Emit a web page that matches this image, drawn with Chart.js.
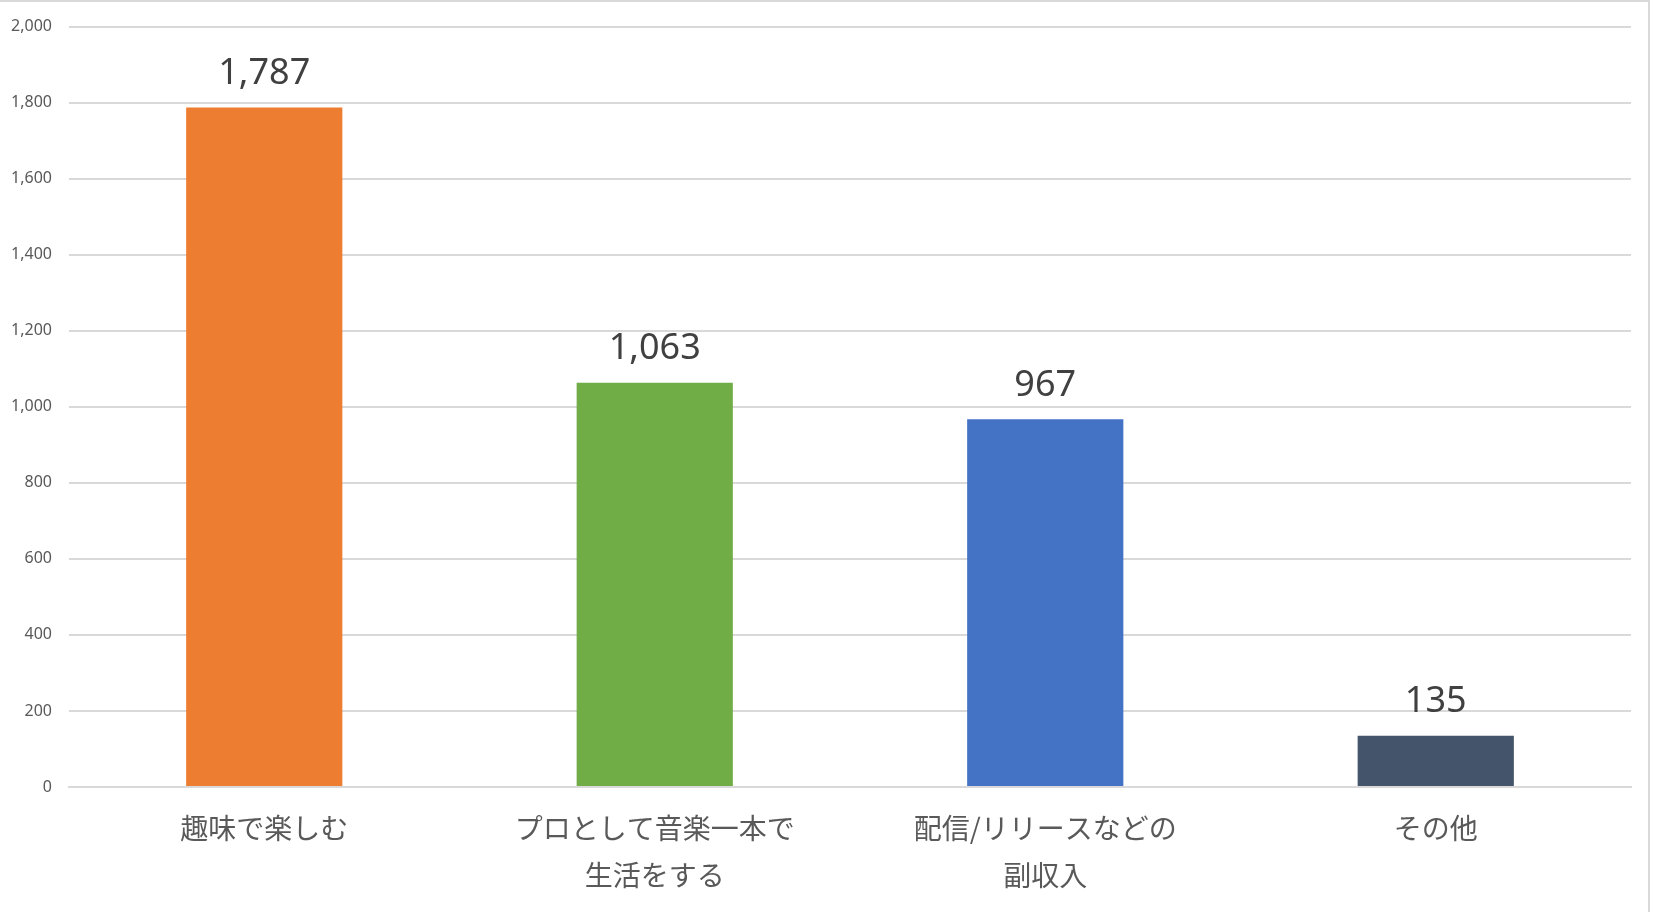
<!DOCTYPE html>
<html>
<head>
<meta charset="utf-8">
<script src="https://cdn.jsdelivr.net/npm/chart.js@4"></script>
<style>
    html, body { margin: 0; padding: 0; background: #fff; }
    #wrap { position: relative; width: 1654px; height: 912px; }
    #frame { position: absolute; left: 0; top: 0; width: 1650px; height: 912px;
             border-top: 2px solid #d9d9d9; border-right: 2px solid #d9d9d9; box-sizing: border-box; pointer-events: none; }
</style>
</head>
<body>
<div id="wrap">
    <canvas id="barChart" width="1654" height="912"></canvas>
    <div id="frame"></div>
</div>
<script>
// data
const categories = ['趣味で楽しむ', ['プロとして音楽一本で', '生活をする'], ['配信/リリースなどの', '副収入'], 'その他'];
const counts = [1787, 1063, 967, 135];
const barColors = ['#ED7D31', '#70AD47', '#4472C4', '#44546A'];
const yMin = 0, yMax = 2000, yStep = 200;

// ラベルをバーの上に描く
const valueLabels = {
    id: 'valueLabels',
    afterDatasetsDraw(chart) {
        const ctx = chart.ctx;
        const meta = chart.getDatasetMeta(0);
        ctx.save();
        ctx.font = '36px "Noto Sans"';
        ctx.fillStyle = '#404040';
        ctx.textAlign = 'center';
        ctx.textBaseline = 'middle';
        meta.data.forEach((bar, i) => {
            ctx.fillText(counts[i].toLocaleString('en-US'), bar.x, bar.y - 34);
        });
        ctx.restore();
    }
};

new Chart(document.getElementById('barChart').getContext('2d'), {
    type: 'bar',
    data: {
        labels: categories,
        datasets: [{ data: counts, backgroundColor: barColors, barPercentage: 0.4, categoryPercentage: 1.0 }],
    },
    options: {
        responsive: false,
        animation: false,
        layout: { padding: { top: 23, right: 23, left: 0, bottom: 0 } },
        plugins: { legend: { display: false }, tooltip: { enabled: false } },
        scales: {
            x: {
                grid: { display: false, drawTicks: false },
                border: { display: true, color: '#d9d9d9', width: 2 },
                ticks: { color: '#595959', padding: 18, maxRotation: 0, autoSkip: false,
                         font: { family: '"Noto Sans CJK JP", "Noto Sans"', size: 28, lineHeight: '47px' } },
                afterFit: (scale) => { scale.height = 912 - 787; },
            },
            y: {
                min: yMin, max: yMax,
                grid: { color: '#d9d9d9', lineWidth: 2, drawTicks: false },
                border: { display: false },
                ticks: { stepSize: yStep, color: '#595959', padding: 17, font: { family: '"Noto Sans"', size: 16 } },
                afterFit: (scale) => { scale.width = 69; },
            },
        },
    },
    plugins: [valueLabels],
});
</script>
</body>
</html>
